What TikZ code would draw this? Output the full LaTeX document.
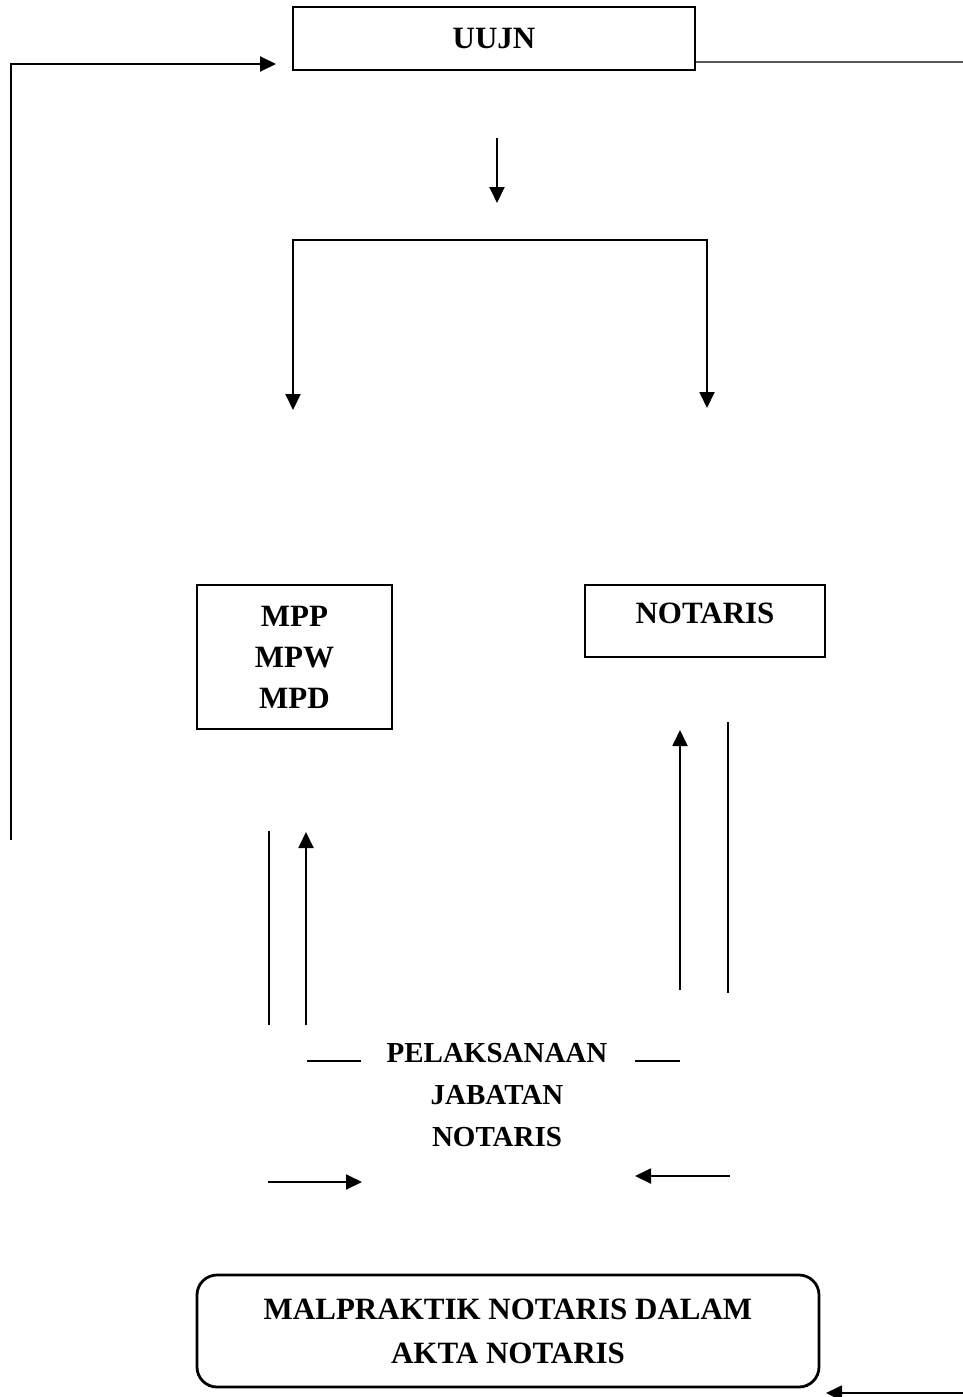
\documentclass[tikz,border=0pt]{standalone}
\usepackage{fontspec}
\setmainfont{Liberation Serif}
\usetikzlibrary{arrows.meta}
\begin{document}
\begin{tikzpicture}[x=1pt,y=-1pt,
  box/.style={draw, line width=1.8pt, inner sep=0pt, align=center,
    font=\fontsize{31}{41}\selectfont\bfseries},
  lbl/.style={inner sep=0pt, align=center, font=\fontsize{29}{42}\selectfont\bfseries},
  conn/.style={line width=1.9pt},
  tip/.tip={Triangle[length=16pt,width=15pt]},
  arr/.style={conn, -tip},
  faint/.style={line width=1.4pt, black!65}]
\useasboundingbox (0,0) rectangle (963,1397);

% boxes
\node[box, minimum width=402pt, minimum height=63pt] (uujn) at (494,38.5) {UUJN};
\node[box, minimum width=195pt, minimum height=144pt] (mp) at (294.5,657) {MPP\\MPW\\MPD};
\node[box, minimum width=240pt, minimum height=72pt, text depth=16pt] (notaris) at (705,621) {NOTARIS};
\node[lbl] (pjn) at (497,1095) {PELAKSANAAN\\JABATAN\\NOTARIS};
\node[box, line width=2.8pt, rounded corners=20pt, minimum width=622pt, minimum height=112pt,
  font=\fontsize{31}{44}\selectfont\bfseries] (mal) at (508,1331) {MALPRAKTIK NOTARIS DALAM\\AKTA NOTARIS};

% left feedback loop into UUJN
\coordinate (loopbot) at (11,840);
\coordinate (looptop) at (11,64);
\coordinate (loopend) at (276,64);
\draw[arr, line join=miter] (loopbot) -- (looptop) -- (loopend);

% line from UUJN to the right edge
\coordinate (redge) at (963,62);
\draw[faint] (uujn.east |- redge) -- (redge);

% down arrow under UUJN
\coordinate (dtop) at (497,138);
\coordinate (dbot) at (497,203);
\draw[arr] (dtop) -- (dbot);

% bracket to MP boxes and Notaris
\coordinate (bl) at (293,240);
\coordinate (br) at (707,240);
\coordinate (bla) at (293,410);
\coordinate (bra) at (707,408);
\draw[conn, tip-tip, line join=miter] (bla) -- (bl) -- (br) -- (bra);

% left pair
\coordinate (l1t) at (269,831);
\coordinate (l1b) at (269,1025);
\coordinate (l2t) at (306,832);
\coordinate (l2b) at (306,1025);
\draw[conn] (l1t) -- (l1b);
\draw[arr] (l2b) -- (l2t);

% right pair
\coordinate (r1t) at (680,730);
\coordinate (r1b) at (680,990);
\coordinate (r2t) at (728,722);
\coordinate (r2b) at (728,993);
\draw[arr] (r1b) -- (r1t);
\draw[conn] (r2t) -- (r2b);

% short dashes beside PELAKSANAAN
\coordinate (dl1) at (307,1061);
\coordinate (dl2) at (361,1061);
\coordinate (dr1) at (635,1061);
\coordinate (dr2) at (680,1061);
\draw[conn] (dl1) -- (dl2);
\draw[conn] (dr1) -- (dr2);

% bottom arrows
\coordinate (ba1) at (268,1182);
\coordinate (ba2) at (362,1182);
\draw[arr] (ba1) -- (ba2);
\coordinate (bb1) at (730,1176);
\coordinate (bb2) at (635,1176);
\draw[arr] (bb1) -- (bb2);

% bottom right arrow toward the malpraktik box
\coordinate (brs) at (963,1393);
\coordinate (bre) at (826,1393);
\draw[arr] (brs) -- (bre);
\end{tikzpicture}
\end{document}
